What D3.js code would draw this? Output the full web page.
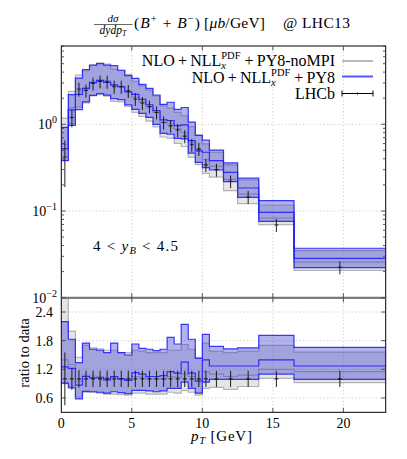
<!DOCTYPE html>
<html lang="en">
  <head>
    <meta charset="UTF-8" />
    <script src="https://d3js.org/d3.v7.min.js"></script>
    <style>
      body { margin: 0; background: #fff; }
      text { font-family: "Liberation Serif", "DejaVu Serif", serif; fill: #000; }
    </style>
  </head>
  <body>
    <script>
      // bins in pT [GeV]
      var binEdges = [0, 0.5, 1, 1.5, 2, 2.5, 3, 3.5, 4, 4.5, 5, 5.5, 6, 6.5, 7, 7.5, 8, 8.5, 9, 9.5, 10,
        10.5, 11.5, 12.5, 14, 16.5, 23];
      // LHCb data (mu b / GeV) and relative error
      var dataVal = [0.42, 1.2, 2.55, 2.45, 2.96, 3.13, 3.1, 2.71, 2.71, 2.43, 1.96, 1.76, 1.6, 1.37, 1.05,
        0.96, 0.86, 0.73, 0.58, 0.52, 0.34, 0.30, 0.22, 0.145, 0.069, 0.0224];
      var dataErr = [0.55, 0.23, 0.18, 0.17, 0.17, 0.17, 0.17, 0.17, 0.17, 0.17, 0.17, 0.17, 0.17, 0.17, 0.17,
        0.17, 0.17, 0.17, 0.17, 0.17, 0.17, 0.17, 0.17, 0.17, 0.17, 0.17];
      // NLO+NLL_x^PDF+PY8 : ratio to data (low, central, high)
      var blueLo = [0.91, 0.81, 0.58, 0.74, 0.73, 0.72, 0.70, 0.73, 0.71, 0.69, 0.76, 0.76, 0.75, 0.73, 0.75,
        0.80, 0.80, 0.93, 0.80, 0.70, 0.93, 0.99, 0.99, 0.99, 1.10, 0.99];
      var blueMid = [1.25, 1.22, 0.87, 1.05, 1.02, 1.02, 0.98, 1.05, 1.0, 0.97, 1.13, 1.1, 1.05, 1.05, 1.07,
        1.15, 1.12, 1.35, 1.12, 0.95, 1.40, 1.27, 1.27, 1.27, 1.40, 1.27];
      var blueHi = [2.2, 1.83, 1.34, 1.75, 1.62, 1.60, 1.55, 1.75, 1.55, 1.50, 1.73, 1.64, 1.62, 1.59, 1.62,
        1.87, 1.73, 2.14, 1.83, 1.43, 1.93, 1.68, 1.63, 1.65, 1.91, 1.66];
      // NLO+NLL_x^PDF+PY8-noMPI : ratio to data
      var grayLo = [0.9, 0.85, 0.62, 0.72, 0.72, 0.70, 0.68, 0.68, 0.67, 0.66, 0.70, 0.70, 0.68, 0.68, 0.68,
        0.72, 0.70, 0.76, 0.72, 0.66, 0.8, 0.82, 0.78, 0.84, 1.01, 0.92];
      var grayMid = [1.4, 1.3, 0.95, 1.08, 1.06, 1.05, 1.02, 1.03, 1.0, 0.98, 1.05, 1.03, 1.0, 1.0, 1.0,
        1.05, 1.03, 1.1, 1.05, 0.97, 1.15, 1.1, 1.05, 1.08, 1.2, 1.15];
      var grayHi = [2.8, 2.0, 1.45, 1.7, 1.65, 1.63, 1.6, 1.6, 1.55, 1.55, 1.6, 1.58, 1.55, 1.55, 1.55,
        1.6, 1.6, 1.72, 1.62, 1.45, 1.75, 1.58, 1.55, 1.58, 1.70, 1.56];

      var xTicks = [0, 5, 10, 15, 20];
      var ratioTicks = [0.6, 1.2, 1.8, 2.4];
      var logTicks = [0.01, 0.1, 1];

      var width = 407,
        height = 459;

      var svg = d3.select("body").append("svg")
        .attr("width", width)
        .attr("height", height);

      var x = d3.scaleLinear().domain([0, 23]).range([61.3, 385.7]);
      var yTop = d3.scaleLog().domain([0.01, 8]).range([297.7, 46]);
      var yRat = d3.scaleLinear().domain([0.3, 2.7]).range([412.3, 297.7]);

      var nb = dataVal.length;
      var bins = d3.range(nb).map(function (i) {
        return { i: i, x0: binEdges[i], x1: binEdges[i + 1], xc: (binEdges[i] + binEdges[i + 1]) / 2 };
      });

      svg.append("defs").append("clipPath").attr("id", "clipTop").append("rect")
        .attr("x", x(0)).attr("y", yTop(8)).attr("width", x(23) - x(0)).attr("height", yTop(0.01) - yTop(8));
      svg.select("defs").append("clipPath").attr("id", "clipRat").append("rect")
        .attr("x", x(0)).attr("y", yRat(2.7)).attr("width", x(23) - x(0)).attr("height", yRat(0.3) - yRat(2.7));

      // step points: one per bin plus closing edge
      function steps(vals) {
        var pts = bins.map(function (b) { return [b.x0, vals[b.i]]; });
        pts.push([binEdges[nb], vals[nb - 1]]);
        return pts;
      }

      function drawGrid(g, yScale, gy) {
        g.selectAll(".gx").data(xTicks.slice(1)).enter().append("line")
          .attr("x1", function (d) { return x(d); }).attr("x2", function (d) { return x(d); })
          .attr("y1", yScale.range()[0]).attr("y2", yScale.range()[1])
          .attr("stroke", "#b5b5b5").attr("stroke-width", 0.8).attr("stroke-dasharray", "1,2.5");
        g.selectAll(".gy").data(gy).enter().append("line")
          .attr("x1", x(0)).attr("x2", x(23))
          .attr("y1", function (d) { return yScale(d); }).attr("y2", function (d) { return yScale(d); })
          .attr("stroke", "#b5b5b5").attr("stroke-width", 0.8).attr("stroke-dasharray", "1,2.5");
      }

      function drawBand(g, yScale, lo, mid, hi, fill, fillOp, stroke, strokeOp) {
        var area = d3.area().curve(d3.curveStepAfter)
          .x(function (d) { return x(d[0]); })
          .y0(function (d) { return yScale(d[1]); })
          .y1(function (d) { return yScale(d[2]); });
        var loP = steps(lo), hiP = steps(hi);
        var pts = loP.map(function (p, k) { return [p[0], p[1], hiP[k][1]]; });
        g.append("path").datum(pts).attr("d", area)
          .attr("fill", fill).attr("fill-opacity", fillOp).attr("stroke", "none");
        var line = d3.line().curve(d3.curveStepAfter)
          .x(function (d) { return x(d[0]); })
          .y(function (d) { return yScale(d[1]); });
        [lo, mid, hi].forEach(function (v) {
          g.append("path").datum(steps(v)).attr("d", line)
            .attr("fill", "none").attr("stroke", stroke).attr("stroke-opacity", strokeOp)
            .attr("stroke-width", 1.2);
        });
      }

      function mult(r) { return r.map(function (v, i) { return v * dataVal[i]; }); }

      var gTop = svg.append("g");
      drawGrid(gTop, yTop, [0.1, 1]);
      var bTop = gTop.append("g").attr("clip-path", "url(#clipTop)");
      drawBand(bTop, yTop, mult(grayLo), mult(grayMid), mult(grayHi), "#a8a8a8", 0.3, "#8a8a8a", 0.6);
      drawBand(bTop, yTop, mult(blueLo), mult(blueMid), mult(blueHi), "#3535d0", 0.38, "#1a1aff", 0.85);

      var gRat = svg.append("g");
      drawGrid(gRat, yRat, ratioTicks);
      var bRat = gRat.append("g").attr("clip-path", "url(#clipRat)");
      drawBand(bRat, yRat, grayLo, grayMid, grayHi, "#a8a8a8", 0.3, "#8a8a8a", 0.6);
      drawBand(bRat, yRat, blueLo, blueMid, blueHi, "#3535d0", 0.38, "#1a1aff", 0.85);

      // LHCb data
      function drawData(g, yScale, val, err) {
        var dg = g.append("g").attr("stroke", "#111").attr("stroke-width", 1.1).attr("stroke-opacity", 0.85);
        dg.selectAll(".eb").data(bins).enter().append("line")
          .attr("x1", function (b) { return x(b.xc); }).attr("x2", function (b) { return x(b.xc); })
          .attr("y1", function (b) { return yScale(val(b.i) * (1 + err[b.i])); })
          .attr("y2", function (b) { return yScale(val(b.i) * (1 - err[b.i])); });
        dg.selectAll(".cx").data(bins).enter().append("line")
          .attr("x1", function (b) { return x(b.xc) - 2; }).attr("x2", function (b) { return x(b.xc) + 2; })
          .attr("y1", function (b) { return yScale(val(b.i)); })
          .attr("y2", function (b) { return yScale(val(b.i)); });
      }
      drawData(bTop, yTop, function (i) { return dataVal[i]; }, dataErr);
      drawData(bRat, yRat, function () { return 1; }, dataErr);

      // frames and ticks
      function frame(y0, y1) {
        svg.append("rect").attr("x", x(0)).attr("y", y1).attr("width", x(23) - x(0)).attr("height", y0 - y1)
          .attr("fill", "none").attr("stroke", "#000").attr("stroke-width", 1);
      }
      frame(yTop(0.01), yTop(8));
      frame(yRat(0.3), yRat(2.7));
      svg.append("line").attr("x1", x(0)).attr("x2", x(23)).attr("y1", yTop(0.01)).attr("y2", yTop(0.01))
        .attr("stroke", "#777").attr("stroke-width", 2);

      var tk = svg.append("g").attr("stroke", "#444").attr("stroke-width", 0.9);
      function xTickMarks(yA, yB) {
        xTicks.slice(1).forEach(function (t) {
          tk.append("line").attr("x1", x(t)).attr("x2", x(t)).attr("y1", yA).attr("y2", yA - 4.5);
          tk.append("line").attr("x1", x(t)).attr("x2", x(t)).attr("y1", yB).attr("y2", yB + 4.5);
        });
      }
      xTickMarks(yTop(0.01), yTop(8));
      xTickMarks(yRat(0.3), yRat(2.7));
      ratioTicks.forEach(function (t) {
        tk.append("line").attr("x1", x(0)).attr("x2", x(0) + 4.5).attr("y1", yRat(t)).attr("y2", yRat(t));
        tk.append("line").attr("x1", x(23)).attr("x2", x(23) - 4.5).attr("y1", yRat(t)).attr("y2", yRat(t));
      });
      yTop.ticks().forEach(function (t) {
        var major = Math.abs(Math.log10(t) - Math.round(Math.log10(t))) < 1e-6;
        var len = major ? 4.5 : 2.7;
        tk.append("line").attr("x1", x(0)).attr("x2", x(0) + len).attr("y1", yTop(t)).attr("y2", yTop(t));
        tk.append("line").attr("x1", x(23)).attr("x2", x(23) - len).attr("y1", yTop(t)).attr("y2", yTop(t));
      });

      // tick labels
      xTicks.forEach(function (t) {
        svg.append("text").attr("x", x(t)).attr("y", 428).attr("text-anchor", "middle")
          .attr("font-size", 14).text(t);
      });
      ratioTicks.forEach(function (t) {
        svg.append("text").attr("x", 53).attr("y", yRat(t) + 5).attr("text-anchor", "end")
          .attr("font-size", 14).text(d3.format(".1f")(t));
      });
      logTicks.forEach(function (t) {
        var e = Math.round(Math.log10(t));
        var tx = svg.append("text").attr("x", 57).attr("y", yTop(t) + 5).attr("text-anchor", "end")
          .attr("font-size", 14);
        tx.append("tspan").text("10");
        tx.append("tspan").attr("dy", -6).attr("font-size", 10).text(e === 0 ? "0" : "\u2212" + (-e));
      });

      // axis labels
      svg.append("text").attr("transform", "translate(29,353) rotate(-90)")
        .attr("text-anchor", "middle").attr("font-size", 14.5).text("ratio to data");
      var xl = svg.append("text").attr("x", 191).attr("y", 441).attr("font-size", 15)
        .attr("textLength", 61).attr("lengthAdjust", "spacing");
      xl.append("tspan").attr("font-style", "italic").text("p");
      xl.append("tspan").attr("font-style", "italic").attr("font-size", 10.5).attr("dy", 3).text("T");
      xl.append("tspan").attr("dy", -3).text(" [GeV]");

      // rapidity label
      var yl = svg.append("text").attr("x", 93).attr("y", 251).attr("font-size", 15)
        .attr("textLength", 85).attr("lengthAdjust", "spacing");
      yl.append("tspan").text("4 < ");
      yl.append("tspan").attr("font-style", "italic").text("y");
      yl.append("tspan").attr("font-style", "italic").attr("font-size", 10.5).attr("dy", 3).text("B");
      yl.append("tspan").attr("dy", -3).text(" < 4.5");

      // title
      var tl = svg.append("g");
      tl.append("text").attr("x", 113).attr("y", 22).attr("text-anchor", "middle").attr("font-size", 11)
        .attr("font-style", "italic").text("d\u03C3");
      var den = tl.append("text").attr("x", 113).attr("y", 33.5).attr("text-anchor", "middle")
        .attr("font-size", 11.5).attr("font-style", "italic");
      den.append("tspan").text("dydp");
      den.append("tspan").attr("font-size", 8).attr("dy", 2).text("T");
      tl.append("line").attr("x1", 94).attr("x2", 132.5).attr("y1", 24.5).attr("y2", 24.5)
        .attr("stroke", "#000").attr("stroke-width", 0.6);
      var tt = tl.append("text").attr("x", 134).attr("y", 28).attr("font-size", 15.5)
        .attr("textLength", 66).attr("lengthAdjust", "spacing");
      tt.append("tspan").text("(");
      tt.append("tspan").attr("font-style", "italic").text("B");
      tt.append("tspan").attr("font-size", 10.5).attr("dy", -6).text("+");
      tt.append("tspan").attr("dy", 6).text(" + ");
      tt.append("tspan").attr("font-style", "italic").text("B");
      tt.append("tspan").attr("font-size", 10.5).attr("dy", -6).text("\u2212");
      tt.append("tspan").attr("dy", 6).text(")");
      var tu = tl.append("text").attr("x", 204).attr("y", 28).attr("font-size", 15.5)
        .attr("textLength", 61).attr("lengthAdjust", "spacing");
      tu.append("tspan").text("[");
      tu.append("tspan").attr("font-style", "italic").text("\u03BCb");
      tu.append("tspan").text("/GeV]");
      tl.append("text").attr("x", 283).attr("y", 28).attr("font-size", 15.5)
        .attr("textLength", 67).attr("lengthAdjust", "spacing").text("@ LHC13");

      // legend
      function legendLabel(xr, yb, tail) {
        var t3 = svg.append("text").attr("x", xr).attr("y", yb).attr("text-anchor", "end")
          .attr("font-size", 16).text("+\u2009" + tail);
        var w3 = t3.node().getComputedTextLength() + 4;
        var t2 = svg.append("text").attr("x", xr - w3).attr("y", yb - 7).attr("text-anchor", "end")
          .attr("font-size", 10.5).text("PDF");
        var w2 = t2.node().getComputedTextLength();
        svg.append("text").attr("x", xr - w3 - w2).attr("y", yb + 3).attr("font-size", 10.5)
          .attr("font-style", "italic").text("x");
        svg.append("text").attr("x", xr - w3 - w2).attr("y", yb).attr("text-anchor", "end")
          .attr("font-size", 16).text("NLO\u2009+\u2009NLL");
      }
      legendLabel(335, 65.5, "PY8-noMPI");
      legendLabel(335, 83, "PY8");
      svg.append("text").attr("x", 335).attr("y", 99).attr("text-anchor", "end").attr("font-size", 16).text("LHCb");
      svg.append("line").attr("x1", 342).attr("x2", 373).attr("y1", 61).attr("y2", 61)
        .attr("stroke", "#b8b8b8").attr("stroke-width", 2);
      svg.append("line").attr("x1", 342).attr("x2", 373).attr("y1", 76.5).attr("y2", 76.5)
        .attr("stroke", "#5555ff").attr("stroke-width", 2);
      var lg = svg.append("g").attr("stroke", "#000").attr("stroke-width", 1);
      lg.append("line").attr("x1", 342).attr("x2", 373).attr("y1", 93.5).attr("y2", 93.5);
      lg.append("line").attr("x1", 342).attr("x2", 342).attr("y1", 90.5).attr("y2", 96.5);
      lg.append("line").attr("x1", 373).attr("x2", 373).attr("y1", 90.5).attr("y2", 96.5);
      lg.append("line").attr("x1", 357.5).attr("x2", 357.5).attr("y1", 92.5).attr("y2", 94.5);
    </script>
  </body>
</html>
